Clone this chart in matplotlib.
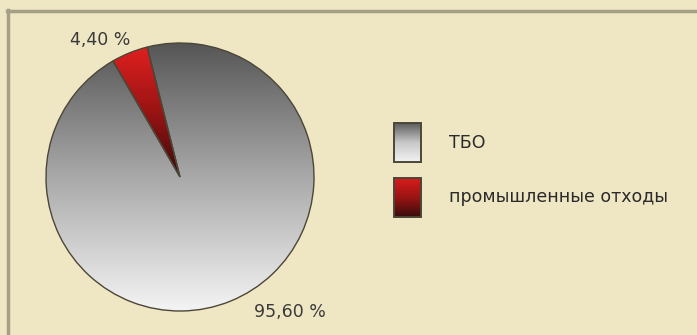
import numpy as np
import matplotlib.pyplot as plt
from matplotlib.colors import LinearSegmentedColormap
from matplotlib.patches import Rectangle

# data
categories = ['ТБО', 'промышленные отходы']
shares = [95.60, 4.40]
share_labels = ['95,60 %', '4,40 %']

bg = '#efe6c4'
gray_cmap = LinearSegmentedColormap.from_list('g', ['#f4f4f5', '#a9a9aa', '#565656'])
red_cmap = LinearSegmentedColormap.from_list('r', ['#3a0b0b', '#9c1414', '#e32020'])
cmaps = [gray_cmap, red_cmap]

fig = plt.figure(figsize=(6.97, 3.35), dpi=100, facecolor=bg)
ax = fig.add_axes([0, 0, 1, 1])
ax.set_facecolor(bg)

cx, cy, r = 180, 158, 134
wedges, _ = ax.pie(shares, startangle=120, center=(cx, cy), radius=r, frame=True,
                   wedgeprops=dict(facecolor='none', edgecolor='#4b4636', linewidth=1.0))

grad = np.linspace(0, 1, 256).reshape(-1, 1)
for w, cm in zip(wedges, cmaps):
    w.set_zorder(3)
    ext = (cx - r, cx + r, cy - r, cy + r) if cm is gray_cmap else (cx - r, cx + r, cy, cy + r)
    im = ax.imshow(grad, extent=ext, origin='lower', cmap=cm, aspect='auto', zorder=2)
    im.set_clip_path(w)

# percentage labels
ax.text(100, 295, share_labels[1], ha='center', va='center', fontsize=12.5, color='#3a3a3a')
ax.text(290, 23, share_labels[0], ha='center', va='center', fontsize=12.5, color='#3a3a3a')

# legend
for i, (name, cm) in enumerate(zip(categories, cmaps)):
    y0 = 173 - i * 55
    lg = np.linspace(0, 1, 64).reshape(-1, 1)
    if i == 0:
        lcm = LinearSegmentedColormap.from_list('lg', ['#f2f2f2', '#c8c8c8', '#5e5e5e'])
    else:
        lcm = LinearSegmentedColormap.from_list('lr', ['#3a0c0c', '#9a1414', '#d81c1c'])
    ax.imshow(lg, extent=(394, 421, y0, y0 + 39), origin='lower', cmap=lcm, aspect='auto', zorder=2)
    ax.add_patch(Rectangle((394, y0), 27, 39, facecolor='none', edgecolor='#4b4636', lw=1.4, zorder=3))
    ax.text(449, y0 + 19.5, name, ha='left', va='center', fontsize=12.5, color='#2a2a2a')

# frame lines
ax.plot([7, 697], [324, 324], color='#a59f86', lw=2.5, zorder=1)
ax.plot([7.5, 7.5], [0, 325], color='#a59f86', lw=2.5, zorder=1)

ax.set_xlim(0, 697)
ax.set_ylim(0, 335)
ax.set_aspect('auto')
ax.axis('off')

fig.savefig('out.png', dpi=100, facecolor=bg)
